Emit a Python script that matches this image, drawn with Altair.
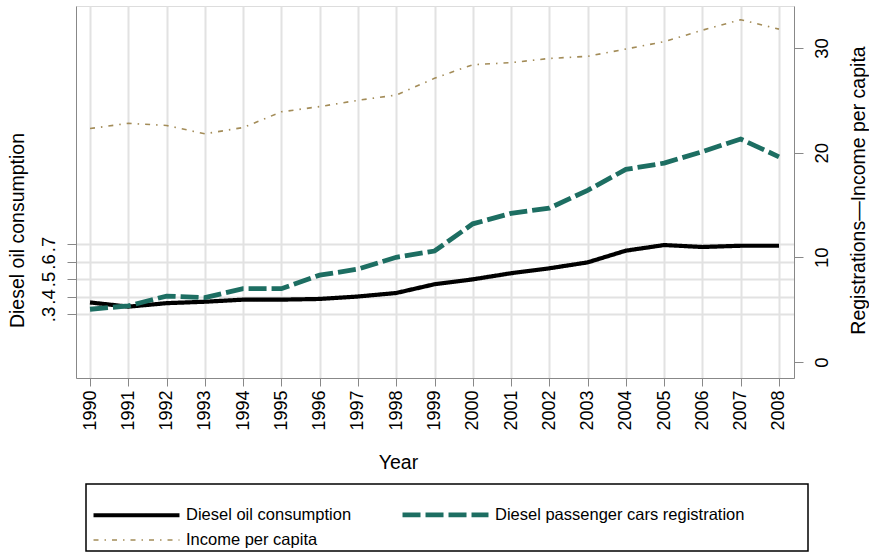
import altair as alt
import pandas as pd

years = [1990, 1991, 1992, 1993, 1994, 1995, 1996, 1997, 1998, 1999,
         2000, 2001, 2002, 2003, 2004, 2005, 2006, 2007, 2008]
consumption = [0.366, 0.342, 0.362, 0.370, 0.382, 0.382, 0.386, 0.400, 0.420, 0.470,
               0.498, 0.533, 0.561, 0.595, 0.662, 0.694, 0.683, 0.690, 0.690]
registrations = [5.04, 5.36, 6.30, 6.15, 7.00, 7.00, 8.30, 8.87, 10.0, 10.6,
                 13.2, 14.2, 14.7, 16.4, 18.4, 19.0, 20.1, 21.3, 19.6]
income = [22.3, 22.8, 22.6, 21.8, 22.4, 23.9, 24.4, 25.0, 25.5, 27.1,
          28.4, 28.6, 29.0, 29.2, 29.9, 30.6, 31.7, 32.7, 31.8]

series_names = ["Diesel oil consumption", "Diesel passenger cars registration", "Income per capita"]
left_ticks = [0.3, 0.4, 0.5, 0.6, 0.7]
right_ticks = [0, 10, 20, 30]

FONT = "Liberation Sans"
TEAL = "#1d6e62"
TAN = "#a38c58"

df_left = pd.DataFrame({"year": years, "value": consumption, "series": series_names[0]})
df_right = pd.concat([
    pd.DataFrame({"year": years, "value": registrations, "series": series_names[1]}),
    pd.DataFrame({"year": years, "value": income, "series": series_names[2]}),
])

x_enc = alt.X(
    "year:Q",
    scale=alt.Scale(domain=[1989.634, 2008.392], nice=False, zero=False),
    axis=alt.Axis(
        values=years, format="d", labelAngle=270, labelAlign="right", labelBaseline="middle",
        labelPadding=4, tickSize=8, labelFontSize=18, labelOverlap=False,
        grid=True, gridColor="#e2e2e2", gridWidth=2,
        title="Year", titleFontSize=19.5, titleFontWeight="normal",
        titleX=322, titleY=84, titleAlign="center", titleBaseline="middle",
    ),
)

color_enc = alt.Color(
    "series:N",
    scale=alt.Scale(domain=series_names, range=["#000000", TEAL, TAN]),
    legend=alt.Legend(
        title=None, orient="none", legendX=47, legendY=495, direction="horizontal",
        columns=2, columnPadding=40, rowPadding=3, symbolType="M-4,0H4", symbolSize=462,
        labelFontSize=16.5, labelFont=FONT, labelColor="black", labelOffset=36,
        padding=0, labelLimit=400,
    ),
)
dash_enc = alt.StrokeDash(
    "series:N",
    scale=alt.Scale(domain=series_names, range=[[1, 0], [18, 5], [5, 6, 1.5, 6]]),
)
width_enc = alt.StrokeWidth(
    "series:N",
    scale=alt.Scale(type="ordinal", domain=series_names, range=[4.2, 4.8, 1.6]),
)

left = alt.Chart(df_left).mark_line().encode(
    x=x_enc,
    y=alt.Y(
        "value:Q",
        scale=alt.Scale(domain=[-0.0657, 2.06], nice=False, zero=False),
        axis=alt.Axis(
            orient="left", values=left_ticks,
            labelExpr="'.' + round(datum.value * 10)",
            labelAngle=270, labelAlign="center", labelBaseline="bottom",
            labelPadding=9, tickSize=9, labelFontSize=18.5, labelOverlap=False,
            grid=True, gridColor="#e2e2e2", gridWidth=2,
            title="Diesel oil consumption", titleFontSize=19.5, titleFontWeight="normal",
            titleAngle=270, titleX=-59, titleY=224, titleAlign="center", titleBaseline="middle",
        ),
    ),
    color=color_enc,
    strokeDash=dash_enc,
    strokeWidth=width_enc,
)

right = alt.Chart(df_right).mark_line().encode(
    x=x_enc,
    y=alt.Y(
        "value:Q",
        scale=alt.Scale(domain=[-1.529, 34.01], nice=False, zero=False),
        axis=alt.Axis(
            orient="right", values=right_ticks, format="d",
            labelAngle=270, labelAlign="center", labelBaseline="top",
            labelPadding=9, tickSize=9, labelFontSize=18.5, labelOverlap=False,
            grid=False,
            title="Registrations\u2014Income per capita", titleFontSize=19.5, titleFontWeight="normal",
            titleAngle=270, titleX=64, titleY=184, titleAlign="center", titleBaseline="middle",
        ),
    ),
    color=color_enc,
    strokeDash=dash_enc,
    strokeWidth=width_enc,
)

frame = alt.Chart(pd.DataFrame({"k": [0]})).mark_rect(
    filled=False, stroke="black", strokeWidth=1.5
).encode(
    x=alt.value(10), x2=alt.value(732), y=alt.value(478), y2=alt.value(545)
)

chart = alt.layer(left, right, frame).resolve_scale(y="independent").properties(
    width=718,
    height=372,
    autosize=alt.AutoSizeParams(type="none"),
    padding={"left": 76, "top": 6, "right": 75, "bottom": 177},
).configure_view(
    stroke="black", strokeWidth=2
).configure_axis(
    labelFont=FONT, titleFont=FONT, labelColor="black", titleColor="black",
    domainColor="black", domainWidth=2, tickColor="black", tickWidth=2,
).configure(background="white")

chart.save("out.html", embed_options={"renderer": "svg", "actions": False})
